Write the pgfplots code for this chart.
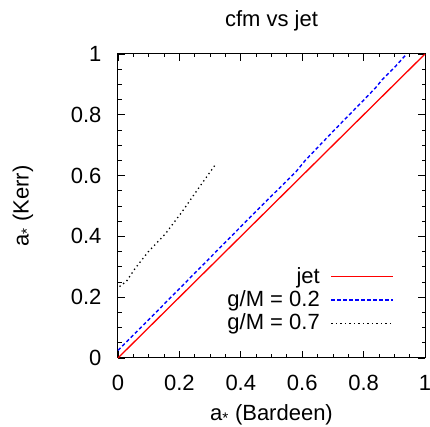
\documentclass[border=0pt]{standalone}
\usepackage{fontspec}
\setmainfont{Liberation Sans}
\usepackage{pgfplots}
\pgfplotsset{compat=1.18}
\tikzset{
    jetline/.style={red, line width=1.3pt},
    gtwoline/.style={blue, line width=1.4pt, dash pattern=on 3.5pt off 2.5pt},
    gsevenline/.style={black, line width=1.3pt, dash pattern=on 1.3pt off 3.2pt},
}
\newcommand{\legstrut}{\rule[-6pt]{0pt}{22pt}}

\begin{document}
\fontsize{22}{26}\selectfont
\begin{tikzpicture}
\begin{axis}[
    scale only axis,
    width=307pt, height=304pt,
    xmin=0, xmax=1, ymin=0, ymax=1,
    xtick={0,0.2,0.4,0.6,0.8,1},
    ytick={0,0.2,0.4,0.6,0.8,1},
    minor tick num=3,
    tick align=inside,
    major tick length=7pt,
    minor tick length=3.5pt,
    tick style={black, line width=0.8pt},
    axis line style={black, line width=1pt},
    ticklabel style={font=\fontsize{22}{26}\selectfont},
    /pgf/number format/assume math mode=true,
    xticklabel style={yshift=-10pt},
    yticklabel style={xshift=-9pt},
    xlabel={a\textsubscript{*} (Bardeen)},
    ylabel={a\textsubscript{*} (Kerr)},
    every axis x label/.style={at={(rel axis cs:0.5,0)}, anchor=base, yshift=-62pt},
    every axis y label/.style={at={([xshift=-95pt]rel axis cs:0,0.5)}, rotate=90, anchor=center},
    clip=false,
    legend cell align=right,
    legend plot pos=right,
    legend style={at={(0.91,0.3125)}, anchor=north east, draw=none, fill=none,
        row sep=0pt, /tikz/column sep=9pt},
]
\addplot[jetline, legend image code/.code={\draw[jetline] (0pt,0pt) -- (62pt,0pt);}]
    coordinates {(0,0) (1,1)};
\addlegendentry{\legstrut jet}
\addplot[gtwoline, legend image code/.code={\draw[gtwoline] (0pt,0pt) -- (62pt,0pt);}]
    coordinates {
    (0,0.025) (0.1,0.126) (0.2,0.228) (0.3,0.330) (0.4,0.432) (0.5,0.533)
    (0.58,0.613) (0.61,0.650) (0.7,0.745) (0.8,0.848) (0.84,0.890)
    (0.86,0.915) (0.9,0.955) (0.94,1.0)
};
\addlegendentry{\legstrut g/M = 0.2}
\addplot[gsevenline, legend image code/.code={\draw[gsevenline] (0pt,0pt) -- (62pt,0pt);}]
    coordinates {
    (0.005,0.235) (0.028,0.253) (0.056,0.295) (0.099,0.350) (0.154,0.408)
    (0.208,0.480) (0.262,0.558) (0.32,0.640)
};
\addlegendentry{\legstrut g/M = 0.7}
\node[anchor=base] at (rel axis cs:0.5,1) [yshift=27pt] {cfm vs jet};
\end{axis}
\pgfresetboundingbox
\path ([shift={(-118pt,-69pt)}]current axis.south west) rectangle ([shift={(5pt,54pt)}]current axis.north east);
\end{tikzpicture}
\end{document}
